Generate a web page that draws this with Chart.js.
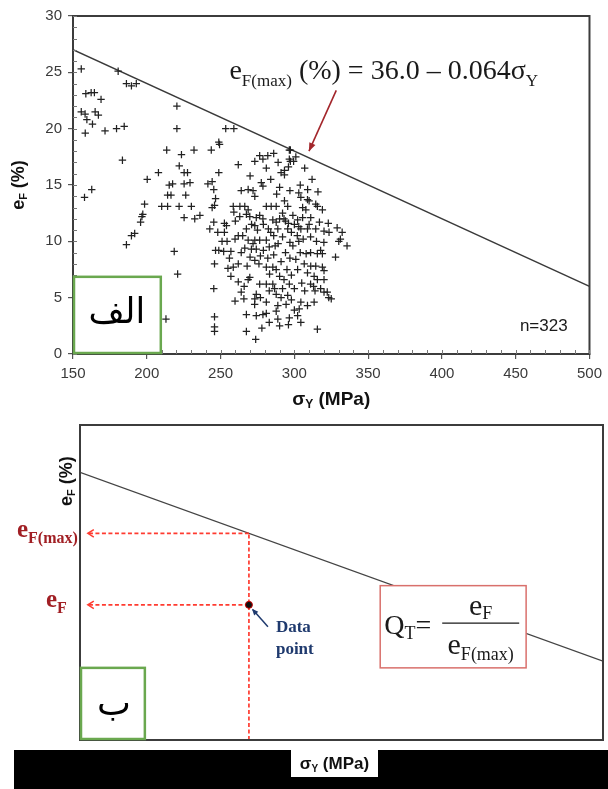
<!DOCTYPE html>
<html>
<head>
<meta charset="utf-8">
<script src="https://cdn.jsdelivr.net/npm/chart.js@4.4.1/dist/chart.umd.min.js"></script>
<style>
  html, body { margin: 0; padding: 0; background: #fff; }
  #wrap { position: relative; width: 608px; height: 789px; overflow: hidden; }
  #topBox { position: absolute; left: 0; top: 0; width: 608px; height: 410px; }
  #bottomBox { position: absolute; left: 0; top: 410px; width: 608px; height: 379px; }
</style>
</head>
<body>
<div id="wrap">
  <div id="topBox"><canvas id="scatterChart"></canvas></div>
  <div id="bottomBox"><canvas id="schemeChart"></canvas></div>
</div>
<script>
  "use strict";

  // --- data: yield stress (MPa) vs. elongation to fracture (%) ---
  const scatterLow = [
    [155.6, 25.3], [180.6, 25.1], [186.2, 24.0], [189.6, 23.8], [192.9, 24.0], [158.7, 23.1], [162.3, 23.2],
    [164.5, 23.2], [169.0, 22.6], [220.4, 22.0], [155.6, 21.5], [158.2, 21.3], [165.0, 21.5], [167.2, 21.2],
    [159.4, 20.8], [163.2, 20.4], [158.3, 19.6], [171.7, 19.8], [179.5, 20.0], [184.7, 20.2], [220.4, 20.0],
    [248.8, 18.8], [249.3, 18.6], [213.5, 18.1], [223.5, 17.7], [232.0, 18.1], [243.7, 18.1], [183.5, 17.2],
    [222.0, 16.7], [225.3, 16.1], [227.6, 16.1], [207.9, 16.1], [248.8, 16.1], [200.3, 15.5], [215.2, 15.0],
    [217.5, 15.1], [225.3, 15.1], [229.3, 15.2], [241.4, 15.1], [244.3, 15.3], [245.4, 14.6], [162.7, 14.6],
    [157.8, 13.9], [214.1, 14.1], [216.4, 14.1], [226.4, 14.1], [246.6, 13.8], [198.5, 13.3], [210.1, 13.1],
    [214.1, 13.1], [221.9, 13.1], [230.2, 13.1], [244.3, 13.0], [245.9, 13.2], [197.3, 12.4], [196.7, 12.2],
    [195.8, 11.7], [225.3, 12.1], [232.5, 12.0], [236.0, 12.3], [245.4, 11.7], [242.7, 11.1], [248.1, 10.8],
    [191.8, 10.7], [189.6, 10.5], [186.2, 9.7], [218.6, 9.1], [246.6, 9.2], [248.8, 9.2], [245.9, 8.0],
    [220.9, 7.1], [245.4, 5.8], [213.0, 3.1], [245.9, 3.3], [245.9, 2.4], [245.9, 2.0]
  ];

  const scatterMid = [
    [253.5, 20.0], [259.0, 20.0], [252.6, 11.6], [252.6, 10.8], [251.0, 10.0], [254.4, 10.0], [252.1, 9.1],
    [296.6, 18.1], [273.2, 17.1], [276.5, 17.6], [278.7, 17.3], [296.6, 17.3], [291.0, 16.1], [293.3, 16.3],
    [293.3, 15.9], [277.6, 15.2], [278.7, 14.9], [268.7, 14.6], [272.0, 14.5], [273.2, 14.0], [258.6, 13.1],
    [263.1, 13.1], [266.4, 13.1], [268.7, 12.8], [281.0, 13.1], [284.3, 13.1], [287.7, 13.1], [293.3, 13.6],
    [295.5, 13.1], [267.5, 12.4], [269.8, 12.2], [274.2, 12.1], [276.5, 12.3], [278.7, 12.0], [285.4, 11.9],
    [287.7, 11.7], [290.0, 12.0], [296.0, 11.6], [254.0, 11.4], [267.5, 11.1], [273.2, 11.4], [282.4, 11.1],
    [288.8, 11.1], [295.5, 11.1], [259.8, 10.2], [268.7, 10.1], [273.2, 10.1], [276.5, 10.1], [281.0, 10.1],
    [266.4, 9.4], [270.9, 9.3], [274.2, 9.3], [258.6, 7.7], [262.0, 8.0], [273.2, 8.3], [276.0, 8.0],
    [281.0, 7.7], [285.4, 7.7], [287.7, 7.5], [283.2, 7.1], [290.0, 6.9], [269.8, 6.8], [268.7, 6.6],
    [276.5, 6.2], [281.0, 6.2], [285.4, 6.2], [286.6, 5.8], [296.6, 6.2], [274.2, 5.3], [273.2, 4.9],
    [287.7, 5.3], [291.0, 5.0], [295.5, 5.2], [288.8, 4.3], [259.8, 4.7], [265.8, 4.9], [273.1, 4.4],
    [267.5, 3.5], [274.2, 3.4], [278.7, 3.5], [281.0, 3.6], [287.7, 3.8], [267.5, 2.0], [273.8, 1.3],
    [288.8, 3.1], [296.6, 3.2], [294.4, 4.4], [279.0, 9.2], [283.0, 9.5], [286.0, 8.8], [289.0, 9.8],
    [292.0, 10.4], [294.0, 9.0], [297.0, 8.5], [299.0, 9.6], [298.0, 10.8], [291.0, 8.2], [286.0, 10.5],
    [282.0, 8.5], [277.0, 8.7], [270.0, 8.6], [264.0, 9.0], [262.0, 10.5], [257.0, 9.1], [256.0, 8.5],
    [260.0, 11.8], [263.0, 12.2], [279.0, 11.5], [284.0, 10.8], [292.0, 12.5], [299.0, 12.3], [297.0, 14.5],
    [288.0, 14.2], [284.0, 15.5], [290.0, 14.8], [281.0, 16.5], [270.0, 15.8], [264.0, 14.5], [262.0, 16.8],
    [298.0, 7.0], [295.0, 7.5], [293.0, 6.6], [292.0, 5.8], [298.0, 4.8], [296.0, 2.6], [290.0, 2.5],
    [283.0, 2.8], [278.0, 2.3], [281.0, 4.6], [277.0, 5.0], [283.0, 5.6], [297.0, 9.9], [294.0, 11.8],
    [287.0, 9.6], [275.0, 11.0], [271.0, 11.5], [265.0, 10.5], [272.0, 9.8], [268.0, 7.8], [266.0, 6.0],
    [262.0, 6.4], [264.0, 5.5], [257.0, 6.9], [255.0, 7.6], [259.0, 12.6], [296.0, 16.6], [289.0, 17.0],
    [286.0, 17.8], [282.0, 17.6]
  ];

  const scatterHigh = [
    [297.3, 18.1], [299.5, 17.1], [297.3, 17.1], [304.0, 15.0], [304.4, 13.9], [308.9, 13.7], [305.6, 13.0],
    [307.8, 12.8], [314.5, 13.3], [315.6, 13.1], [319.0, 12.8], [305.6, 12.1], [310.0, 13.6], [311.1, 12.1],
    [302.2, 11.9], [304.4, 11.1], [308.9, 11.1], [314.5, 11.1], [320.1, 10.9], [323.5, 10.8], [332.4, 10.8],
    [331.2, 10.2], [330.1, 10.0], [335.7, 9.6], [302.0, 10.5], [306.0, 10.2], [311.0, 10.4], [315.0, 10.0],
    [320.0, 9.9], [317.8, 9.2], [315.6, 8.9], [319.0, 8.9], [327.9, 8.6], [304.0, 9.0], [308.0, 8.9],
    [311.0, 9.0], [306.7, 8.0], [311.1, 7.8], [314.5, 7.8], [319.0, 7.7], [320.1, 7.4], [302.2, 7.5],
    [308.9, 7.2], [313.4, 6.9], [320.1, 6.6], [315.6, 6.6], [305.0, 6.3], [311.0, 6.2], [313.0, 6.0],
    [300.0, 5.8], [307.0, 5.6], [314.0, 5.6], [317.8, 5.8], [320.1, 5.5], [322.3, 5.5], [323.3, 5.0],
    [325.0, 4.9], [304.4, 4.6], [308.9, 4.3], [313.4, 4.6], [303.3, 4.0], [302.2, 3.4], [304.4, 2.8],
    [315.6, 2.2], [300.0, 3.9], [301.0, 8.4], [303.0, 14.3], [309.0, 14.6], [312.0, 15.5], [316.0, 14.4],
    [307.0, 16.5], [301.0, 17.5], [293.0, 12.0], [300.0, 11.5], [303.0, 11.3], [310.0, 11.5], [317.0, 11.7],
    [323.0, 11.6], [329.0, 11.2], [303.0, 10.0]
  ];

  // upper bound line e_F(max) as drawn on the plot
  const limitSigma = [150, 500];
  const limitElong = [27, 6];

  const xTicks = [150, 200, 250, 300, 350, 400, 450, 500];
  const yTicks = [0, 5, 10, 15, 20, 25, 30];
  const sampleCount = 323;

  // --- schematic panel (arbitrary units, no tick labels) ---
  const schemeLimitX = [0, 10];
  const schemeLimitY = [8.5, 2.5];
  const pointSigma = 3.23;
  const pointElong = 4.29;
  const pointLimit = 6.56;
  const guideEndX = 0.15;

  const SANS = "'Liberation Sans', Arial, sans-serif";
  const SERIF = "'Liberation Serif', 'Times New Roman', serif";
  const ARABIC = "'DejaVu Sans', 'Noto Sans', sans-serif";
  Chart.defaults.font.family = SANS;

  const toXY = arr => arr.map(p => ({ x: p[0], y: p[1] }));
  const linePts = (xs, ys) => xs.map((v, i) => ({ x: v, y: ys[i] }));

  // draw a row of text runs (main text + sub-scripts), returns width
  function drawRuns(ctx, x, y, runs, measureOnly) {
    let w = 0;
    runs.forEach(r => {
      ctx.font = r.font;
      if (!measureOnly) ctx.fillText(r.text, x + w, y + (r.dy || 0));
      w += ctx.measureText(r.text).width;
    });
    return w;
  }

  function arrowHead(ctx, x1, y1, x2, y2, len, spread, filled) {
    const ang = Math.atan2(y2 - y1, x2 - x1);
    const ax = x2 - len * Math.cos(ang - spread), ay = y2 - len * Math.sin(ang - spread);
    const bx = x2 - len * Math.cos(ang + spread), by = y2 - len * Math.sin(ang + spread);
    ctx.beginPath();
    if (filled) {
      ctx.moveTo(x2, y2); ctx.lineTo(ax, ay); ctx.lineTo(bx, by); ctx.closePath(); ctx.fill();
    } else {
      ctx.moveTo(ax, ay); ctx.lineTo(x2, y2); ctx.lineTo(bx, by); ctx.stroke();
    }
  }

  // frame, minor ticks, titles and annotations for the scatter plot
  const scatterDecor = {
    id: "scatterDecor",
    afterDraw(chart) {
      const { ctx, chartArea: a, scales: { x, y } } = chart;
      ctx.save();

      ctx.strokeStyle = "#3c3c3c";
      ctx.lineWidth = 2;
      ctx.strokeRect(a.left, a.top, a.right - a.left, a.bottom - a.top);

      // minor ticks pointing inwards
      ctx.strokeStyle = "#777";
      ctx.lineWidth = 1;
      ctx.beginPath();
      for (let v = xTicks[0]; v <= xTicks[xTicks.length - 1]; v += 10) {
        const px = Math.round(x.getPixelForValue(v)) + 0.5;
        ctx.moveTo(px, a.bottom); ctx.lineTo(px, a.bottom - 4);
      }
      for (let v = yTicks[0]; v <= yTicks[yTicks.length - 1]; v += 1) {
        const py = Math.round(y.getPixelForValue(v)) + 0.5;
        ctx.moveTo(a.left, py); ctx.lineTo(a.left + 4, py);
      }
      ctx.stroke();

      // axis titles
      ctx.fillStyle = "#111";
      ctx.textBaseline = "alphabetic";
      const xt = [
        { text: "σ", font: "bold 19px " + SANS },
        { text: "Y", font: "bold 12px " + SANS, dy: 3 },
        { text: " (MPa)", font: "bold 19px " + SANS }
      ];
      const xw = drawRuns(ctx, 0, 0, xt, true);
      drawRuns(ctx, (a.left + a.right) / 2 - xw / 2, 405, xt);

      const yt = [
        { text: "e", font: "bold 18px " + SANS },
        { text: "F", font: "bold 11px " + SANS, dy: 3 },
        { text: " (%)", font: "bold 18px " + SANS }
      ];
      const yw = drawRuns(ctx, 0, 0, yt, true);
      ctx.save();
      ctx.translate(24, (a.top + a.bottom) / 2);
      ctx.rotate(-Math.PI / 2);
      drawRuns(ctx, -yw / 2, 0, yt);
      ctx.restore();

      // fitted bound equation
      ctx.fillStyle = "#1a1a1a";
      drawRuns(ctx, x.getPixelForValue(256), y.getPixelForValue(24.4), [
        { text: "e", font: "28px " + SERIF },
        { text: "F(max)", font: "17px " + SERIF, dy: 7 },
        { text: " (%) = 36.0 – 0.064σ", font: "28px " + SERIF },
        { text: "Y", font: "17px " + SERIF, dy: 7 }
      ]);

      // arrow pointing at the bound line
      const ax1 = x.getPixelForValue(328.4), ay1 = y.getPixelForValue(23.4);
      const ax2 = x.getPixelForValue(309.9), ay2 = y.getPixelForValue(18.0);
      ctx.strokeStyle = "#a3262b";
      ctx.fillStyle = "#a3262b";
      ctx.lineWidth = 1.6;
      ctx.beginPath(); ctx.moveTo(ax1, ay1); ctx.lineTo(ax2, ay2); ctx.stroke();
      arrowHead(ctx, ax1, ay1, ax2, ay2, 9, 0.38, true);

      // sample count
      ctx.fillStyle = "#1a1a1a";
      ctx.font = "17px " + SANS;
      ctx.textAlign = "right";
      ctx.fillText("n=" + sampleCount, x.getPixelForValue(485.2), y.getPixelForValue(2.0));

      // panel label
      const gx1 = x.getPixelForValue(150), gx2 = x.getPixelForValue(209.5);
      const gy1 = y.getPixelForValue(6.85), gy2 = y.getPixelForValue(0);
      ctx.fillStyle = "#fff";
      ctx.fillRect(gx1 + 1, gy1, gx2 - gx1 - 1, gy2 - gy1 - 1);
      ctx.strokeStyle = "#6aa84f";
      ctx.lineWidth = 2.5;
      ctx.strokeRect(gx1 + 1, gy1, gx2 - gx1 - 1, gy2 - gy1 - 1);
      ctx.fillStyle = "#000";
      ctx.font = "35px " + ARABIC;
      ctx.textAlign = "center";
      ctx.textBaseline = "middle";
      ctx.fillText("الف", (gx1 + gx2) / 2, (gy1 + gy2) / 2 - 2);

      ctx.restore();
    }
  };

  new Chart(document.getElementById("scatterChart"), {
    type: "scatter",
    data: {
      datasets: [
        {
          data: toXY(scatterLow.concat(scatterMid, scatterHigh)),
          pointStyle: "cross",
          pointRadius: 3.7,
          borderWidth: 1.25,
          borderColor: "#222",
          backgroundColor: "#222"
        },
        {
          type: "line",
          data: linePts(limitSigma, limitElong),
          borderColor: "#3a3a3a",
          borderWidth: 1.5,
          pointRadius: 0,
          fill: false
        }
      ]
    },
    options: {
      animation: false,
      responsive: true,
      maintainAspectRatio: false,
      devicePixelRatio: 1,
      layout: { padding: { top: 16, right: 13, left: 0, bottom: 0 } },
      plugins: { legend: { display: false }, tooltip: { enabled: false } },
      scales: {
        x: {
          type: "linear",
          min: xTicks[0],
          max: xTicks[xTicks.length - 1],
          afterBuildTicks: s => { s.ticks = xTicks.map(v => ({ value: v })); },
          afterFit: s => { s.height = 56; },
          grid: { drawOnChartArea: false, drawTicks: true, tickLength: 5, color: "#555", lineWidth: 1.2 },
          border: { display: true, color: "#3c3c3c", width: 2 },
          ticks: { color: "#3a3a3a", font: { size: 15 }, padding: 6, maxRotation: 0 }
        },
        y: {
          type: "linear",
          min: yTicks[0],
          max: yTicks[yTicks.length - 1],
          afterBuildTicks: s => { s.ticks = yTicks.map(v => ({ value: v })); },
          afterFit: s => { s.width = 73; },
          grid: { drawOnChartArea: false, drawTicks: true, tickLength: 5, color: "#555", lineWidth: 1.2 },
          border: { display: true, color: "#3c3c3c", width: 2 },
          ticks: { color: "#3a3a3a", font: { size: 15 }, padding: 6 }
        }
      }
    },
    plugins: [scatterDecor]
  });

  const schemeDecor = {
    id: "schemeDecor",
    afterDatasetsDraw(chart) {
      const { ctx, scales: { x, y } } = chart;
      ctx.save();

      // Q_T definition box
      const bx1 = x.getPixelForValue(5.74), bx2 = x.getPixelForValue(8.53);
      const by1 = y.getPixelForValue(4.9), by2 = y.getPixelForValue(2.29);
      ctx.fillStyle = "#fff";
      ctx.fillRect(bx1, by1, bx2 - bx1, by2 - by1);
      ctx.strokeStyle = "#d9706c";
      ctx.lineWidth = 1.5;
      ctx.strokeRect(bx1, by1, bx2 - bx1, by2 - by1);

      ctx.fillStyle = "#1a1a1a";
      ctx.textBaseline = "alphabetic";
      drawRuns(ctx, bx1 + 4, by1 + 48, [
        { text: "Q", font: "28px " + SERIF },
        { text: "T", font: "18px " + SERIF, dy: 5 },
        { text: "=", font: "28px " + SERIF }
      ]);
      const fx1 = bx1 + 62, fx2 = bx1 + 139, fy = by1 + 37.5;
      ctx.strokeStyle = "#1a1a1a";
      ctx.lineWidth = 1.2;
      ctx.beginPath(); ctx.moveTo(fx1, fy); ctx.lineTo(fx2, fy); ctx.stroke();
      const num = [{ text: "e", font: "30px " + SERIF }, { text: "F", font: "18px " + SERIF, dy: 4 }];
      const den = [{ text: "e", font: "30px " + SERIF }, { text: "F(max)", font: "18px " + SERIF, dy: 6 }];
      const nw = drawRuns(ctx, 0, 0, num, true), dw = drawRuns(ctx, 0, 0, den, true);
      drawRuns(ctx, (fx1 + fx2) / 2 - nw / 2, fy - 8, num);
      drawRuns(ctx, (fx1 + fx2) / 2 - dw / 2, fy + 31, den);
      ctx.restore();
    },
    afterDraw(chart) {
      const { ctx, chartArea: a, scales: { x, y } } = chart;
      const H = chart.height;
      ctx.save();

      ctx.strokeStyle = "#3c3c3c";
      ctx.lineWidth = 2;
      ctx.strokeRect(a.left, a.top, a.right - a.left, a.bottom - a.top);

      // dashed guide arrowheads
      ctx.strokeStyle = "#ff3b30";
      ctx.lineWidth = 1.5;
      [pointLimit, pointElong].forEach(v => {
        const py = y.getPixelForValue(v), px = x.getPixelForValue(guideEndX);
        arrowHead(ctx, px + 20, py, px, py, 7, 0.55, false);
      });

      // guide labels
      ctx.fillStyle = "#a11f24";
      ctx.textBaseline = "alphabetic";
      drawRuns(ctx, 17, y.getPixelForValue(pointLimit) + 4, [
        { text: "e", font: "bold 25px " + SERIF },
        { text: "F(max)", font: "bold 16px " + SERIF, dy: 6 }
      ]);
      drawRuns(ctx, 46, y.getPixelForValue(pointElong) + 2, [
        { text: "e", font: "bold 25px " + SERIF },
        { text: "F", font: "bold 16px " + SERIF, dy: 6 }
      ]);

      // "Data point" callout
      const dpx = x.getPixelForValue(pointSigma), dpy = y.getPixelForValue(pointElong);
      ctx.strokeStyle = "#1f3a6e";
      ctx.fillStyle = "#1f3a6e";
      ctx.lineWidth = 1.5;
      ctx.beginPath(); ctx.moveTo(dpx + 19, dpy + 22); ctx.lineTo(dpx + 4, dpy + 5); ctx.stroke();
      arrowHead(ctx, dpx + 19, dpy + 22, dpx + 3, dpy + 4, 7, 0.4, true);
      ctx.font = "bold 17px " + SERIF;
      ctx.fillText("Data", dpx + 27, dpy + 27);
      ctx.fillText("point", dpx + 27, dpy + 49);

      // y title near the top of the axis
      ctx.fillStyle = "#111";
      ctx.save();
      ctx.translate(72, 96);
      ctx.rotate(-Math.PI / 2);
      drawRuns(ctx, 0, 0, [
        { text: "e", font: "bold 18px " + SANS },
        { text: "F", font: "bold 11px " + SANS, dy: 3 },
        { text: " (%)", font: "bold 18px " + SANS }
      ]);
      ctx.restore();

      // panel label
      const gx1 = a.left + 1, gx2 = x.getPixelForValue(1.24);
      const gy1 = y.getPixelForValue(2.29), gy2 = a.bottom - 1;
      ctx.fillStyle = "#fff";
      ctx.fillRect(gx1, gy1, gx2 - gx1, gy2 - gy1);
      ctx.strokeStyle = "#6aa84f";
      ctx.lineWidth = 2.5;
      ctx.strokeRect(gx1, gy1, gx2 - gx1, gy2 - gy1);
      ctx.fillStyle = "#000";
      ctx.font = "36px " + ARABIC;
      ctx.textAlign = "center";
      ctx.textBaseline = "middle";
      ctx.fillText("ب", (gx1 + gx2) / 2 + 1, (gy1 + gy2) / 2 + 2);

      // bottom band with the x title
      ctx.fillStyle = "#000";
      ctx.fillRect(14, a.bottom + 10, chart.width - 14, H - a.bottom - 10);
      ctx.fillStyle = "#fff";
      ctx.fillRect(291, a.bottom + 9, 87, 28);
      ctx.fillStyle = "#111";
      ctx.textAlign = "left";
      ctx.textBaseline = "alphabetic";
      const xt = [
        { text: "σ", font: "bold 17px " + SANS },
        { text: "Y", font: "bold 10px " + SANS, dy: 3 },
        { text: " (MPa)", font: "bold 17px " + SANS }
      ];
      const xw = drawRuns(ctx, 0, 0, xt, true);
      drawRuns(ctx, 334.5 - xw / 2, a.bottom + 29, xt);

      ctx.restore();
    }
  };

  new Chart(document.getElementById("schemeChart"), {
    type: "scatter",
    data: {
      datasets: [
        {
          data: [{ x: pointSigma, y: pointElong }],
          pointRadius: 3.5,
          backgroundColor: "#111",
          borderColor: "#c00",
          borderWidth: 1,
          order: 0
        },
        {
          data: linePts([pointSigma, pointSigma], [0, pointLimit]),
          showLine: true, pointRadius: 0,
          borderColor: "#ff3b30", borderWidth: 1.7, borderDash: [4, 2.5],
          order: 1
        },
        {
          data: linePts([pointSigma, guideEndX], [pointLimit, pointLimit]),
          showLine: true, pointRadius: 0,
          borderColor: "#ff3b30", borderWidth: 1.7, borderDash: [4, 2.5],
          order: 1
        },
        {
          data: linePts([pointSigma, guideEndX], [pointElong, pointElong]),
          showLine: true, pointRadius: 0,
          borderColor: "#ff3b30", borderWidth: 1.7, borderDash: [4, 2.5],
          order: 1
        },
        {
          data: linePts(schemeLimitX, schemeLimitY),
          showLine: true, pointRadius: 0,
          borderColor: "#444", borderWidth: 1.3,
          order: 2
        }
      ]
    },
    options: {
      animation: false,
      responsive: true,
      maintainAspectRatio: false,
      devicePixelRatio: 1,
      layout: { padding: { top: 15, right: 5, left: 80, bottom: 49 } },
      plugins: { legend: { display: false }, tooltip: { enabled: false } },
      scales: {
        x: { type: "linear", min: 0, max: 10, display: false },
        y: { type: "linear", min: 0, max: 10, display: false }
      }
    },
    plugins: [schemeDecor]
  });
</script>
</body>
</html>
